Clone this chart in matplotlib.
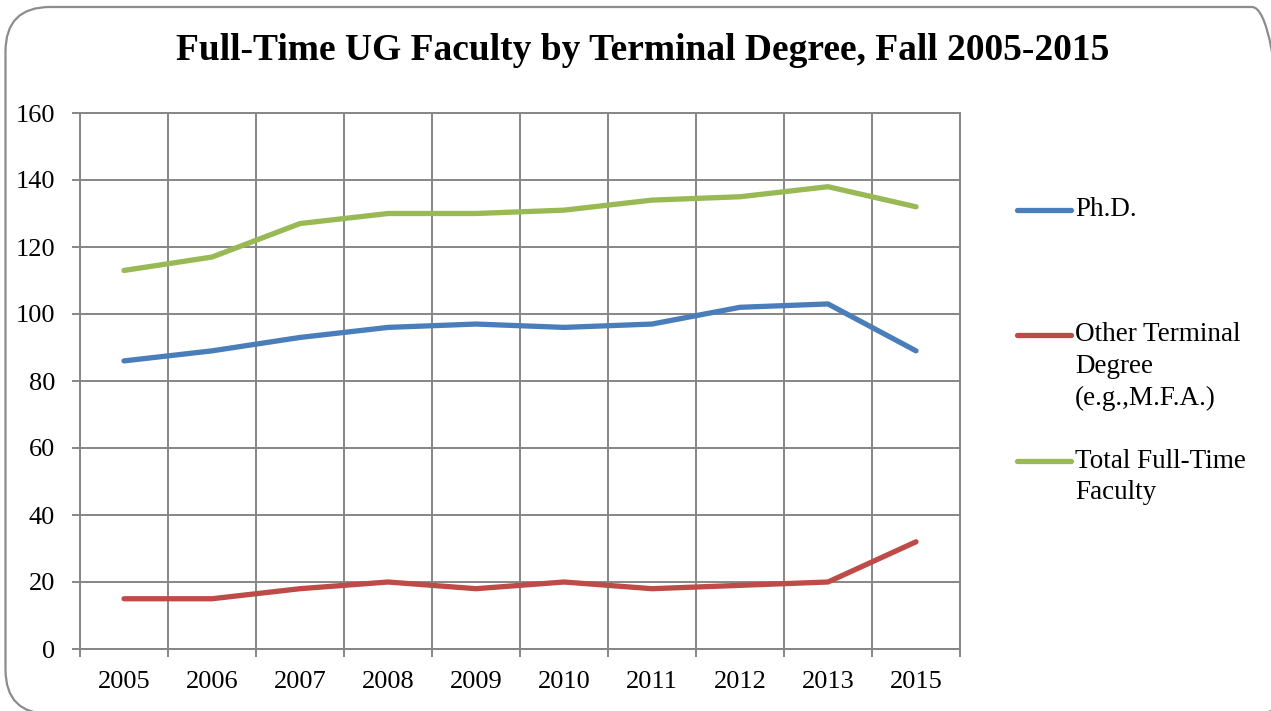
import matplotlib
matplotlib.use("Agg")
import matplotlib.pyplot as plt
from matplotlib.lines import Line2D
from matplotlib.patches import FancyBboxPatch
from matplotlib.ticker import FixedLocator, MultipleLocator

years = ["2005", "2006", "2007", "2008", "2009", "2010", "2011", "2012", "2013", "2015"]
phd = [86, 89, 93, 96, 97, 96, 97, 102, 103, 89]
other_terminal = [15, 15, 18, 20, 18, 20, 18, 19, 20, 32]
total_full_time = [113, 117, 127, 130, 130, 131, 134, 135, 138, 132]

series_labels = ["Ph.D.", "Other Terminal\nDegree\n(e.g.,M.F.A.)", "Total Full-Time\nFaculty"]
series_values = [phd, other_terminal, total_full_time]
series_colors = ["#4A7EBB", "#BE4B48", "#98B954"]

plt.rcParams["font.family"] = ["Liberation Serif", "DejaVu Serif"]

W, H = 1271, 711
fig = plt.figure(figsize=(W / 100, H / 100), dpi=100)
fig.patch.set_facecolor("white")

# rounded chart-area frame (right and bottom edges run past the canvas)
frame = FancyBboxPatch((5.5 / W, -3.0 / H), (W + 20) / W, (H - 4.0) / H,
                       boxstyle="round,pad=0,rounding_size=0.035",
                       transform=fig.transFigure, facecolor="none",
                       edgecolor="#8C8C8C", linewidth=1.6, mutation_aspect=W / H,
                       clip_on=False)
fig.patches.append(frame)

left, right, top, bottom = 80, 960, 113, 649
ax = fig.add_axes([left / W, 1 - bottom / H, (right - left) / W, (bottom - top) / H])

grid_color = "#868686"
x = list(range(len(years)))
for vals, color in zip(series_values, series_colors):
    ax.plot(x, vals, color=color, linewidth=3.8, solid_capstyle="round",
            solid_joinstyle="round", zorder=3)

ax.set_xlim(-0.5, len(years) - 0.5)
ax.set_ylim(0, 160)
ax.yaxis.set_major_locator(MultipleLocator(20))
ax.xaxis.set_major_locator(FixedLocator(x))
ax.set_xticklabels(years)
ax.xaxis.set_minor_locator(FixedLocator([i - 0.5 for i in range(len(years) + 1)]))

ax.grid(True, which="major", axis="y", color=grid_color, linewidth=1.4)
ax.grid(True, which="minor", axis="x", color=grid_color, linewidth=1.4)
ax.set_axisbelow(True)

ax.tick_params(axis="x", which="major", length=0, pad=16, labelsize=19)
ax.tick_params(axis="x", which="minor", length=6, width=1.4, color=grid_color, direction="out")
ax.tick_params(axis="y", which="major", length=6, width=1.4, color=grid_color,
               direction="out", pad=12, labelsize=19)
for s in ax.spines.values():
    s.set_color(grid_color)
    s.set_linewidth(1.4)

fig.text(643 / W, 1 - 50 / H, "Full-Time UG Faculty by Terminal Degree, Fall 2005-2015",
         ha="center", va="center", fontsize=27, fontweight="bold")

# legend drawn at fixed figure positions
legend_rows = [210, 335, 461]
line_step = 31.5
for label, color, y0 in zip(series_labels, series_colors, legend_rows):
    fig.add_artist(Line2D([1017 / W, 1071 / W], [1 - y0 / H, 1 - y0 / H],
                          transform=fig.transFigure, color=color, linewidth=3.8,
                          solid_capstyle="round"))
    for k, part in enumerate(label.split("\n")):
        fig.text(1075 / W, 1 - (y0 + k * line_step) / H, part, ha="left", va="center",
                 fontsize=19.5)

fig.savefig("out.png", dpi=100, facecolor="white")
